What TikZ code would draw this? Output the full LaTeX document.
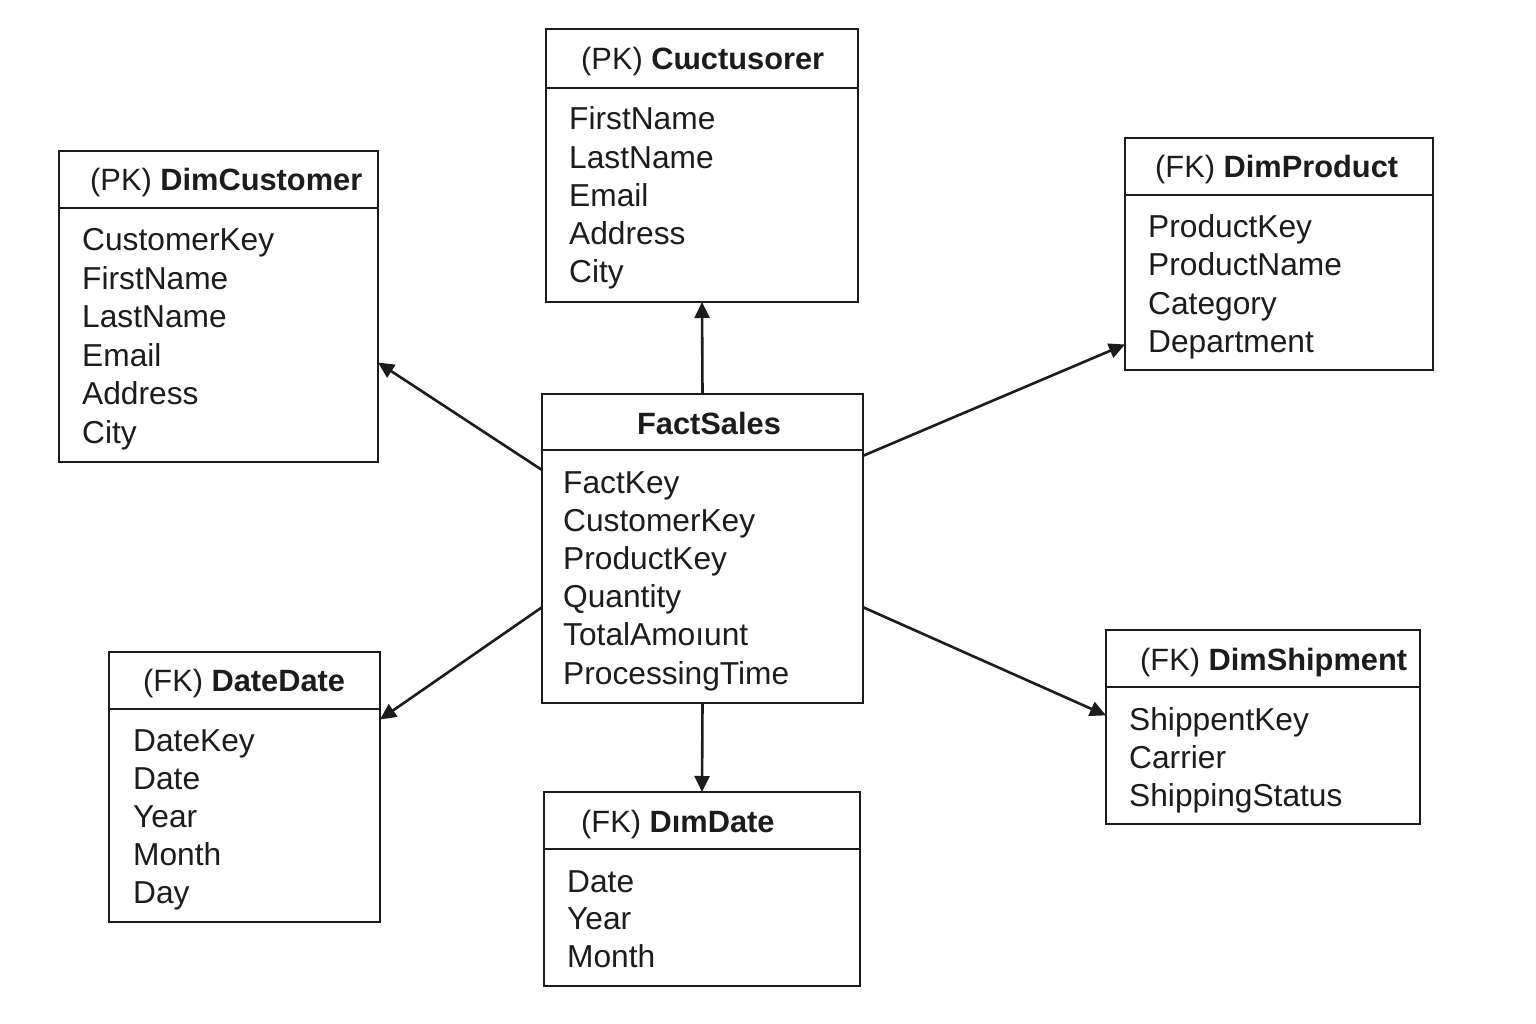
\documentclass[tikz,border=0pt]{standalone}
\usepackage{fontspec}
\setmainfont{Liberation Sans}
\usetikzlibrary{arrows.meta,calc}
\definecolor{ink}{HTML}{1C1C1C}
\begin{document}
\begin{tikzpicture}[x=1pt,y=-1pt,
  tbl/.style={draw=ink, line width=2.8pt, rectangle, inner sep=0pt, outer sep=0pt, anchor=north west},
  hdr/.style={text=ink, font=\fontsize{30.8}{36}\selectfont, anchor=base west, inner sep=0pt},
  fld/.style={text=ink, font=\fontsize{31.7}{38}\selectfont, anchor=base west, inner sep=0pt},
  sep/.style={draw=ink, line width=2.8pt},
  link/.style={draw=ink, line width=2.6pt, -{Triangle[length=16pt,width=15pt]}}]
\useasboundingbox (0,0) rectangle (1536,1024);
\fill[white] (0,0) rectangle (1536,1024);

% DimCustomer
\node[tbl, minimum width=319pt, minimum height=311pt] (cust) at (59,151) {};
\draw[sep] ([yshift=-57pt]cust.north west) -- ([yshift=-57pt]cust.north east);
\node[hdr] (custh) at (90,191) {(PK) \textbf{DimCustomer}};
\foreach \t [count=\i] in {CustomerKey,FirstName,LastName,Email,Address,City}
  \node[fld] (custf\i) at (82,{251+38.4*(\i-1)}) {\t};

% Cwctusorer
\node[tbl, minimum width=312pt, minimum height=273pt] (top) at (546,29) {};
\draw[sep] ([yshift=-59pt]top.north west) -- ([yshift=-59pt]top.north east);
\node[hdr] (toph) at (581,70) {(PK) \textbf{Cɯctusorer}};
\foreach \t [count=\i] in {FirstName,LastName,Email,Address,City}
  \node[fld] (topf\i) at (569,{130+38.25*(\i-1)}) {\t};

% DimProduct
\node[tbl, minimum width=308pt, minimum height=232pt] (prod) at (1125,138) {};
\draw[sep] ([yshift=-57pt]prod.north west) -- ([yshift=-57pt]prod.north east);
\node[hdr] (prodh) at (1155,178) {(FK) \textbf{DimProduct}};
\foreach \t [count=\i] in {ProductKey,ProductName,Category,Department}
  \node[fld] (prodf\i) at (1148,{238+38*(\i-1)}) {\t};

% FactSales
\node[tbl, minimum width=321pt, minimum height=309pt] (fact) at (542,394) {};
\draw[sep] ([yshift=-56pt]fact.north west) -- ([yshift=-56pt]fact.north east);
\node[hdr, anchor=base] (facth) at (709,434) {\textbf{FactSales}};
\foreach \t [count=\i] in {FactKey,CustomerKey,ProductKey,Quantity,TotalAmoıunt,ProcessingTime}
  \node[fld] (factf\i) at (563,{493+38.2*(\i-1)}) {\t};

% DateDate
\node[tbl, minimum width=271pt, minimum height=270pt] (dated) at (109,652) {};
\draw[sep] ([yshift=-57pt]dated.north west) -- ([yshift=-57pt]dated.north east);
\node[hdr] (datedh) at (143,691) {(FK) \textbf{DateDate}};
\foreach \t [count=\i] in {DateKey,Date,Year,Month,Day}
  \node[fld] (datedf\i) at (133,{751+38*(\i-1)}) {\t};

% DimDate
\node[tbl, minimum width=316pt, minimum height=194pt] (dimd) at (544,792) {};
\draw[sep] ([yshift=-57pt]dimd.north west) -- ([yshift=-57pt]dimd.north east);
\node[hdr] (dimdh) at (581,832) {(FK) \textbf{DımDate}};
\foreach \t [count=\i] in {Date,Year,Month}
  \node[fld] (dimdf\i) at (567,{892+37.5*(\i-1)}) {\t};

% DimShipment
\node[tbl, minimum width=314pt, minimum height=194pt] (ship) at (1106,630) {};
\draw[sep] ([yshift=-57pt]ship.north west) -- ([yshift=-57pt]ship.north east);
\node[hdr] (shiph) at (1140,670) {(FK) \textbf{DimShipment}};
\foreach \t [count=\i] in {ShippentKey,Carrier,ShippingStatus}
  \node[fld] (shipf\i) at (1129,{730+38*(\i-1)}) {\t};

% connectors
\draw[link] ($(fact.north west)!0.246!(fact.south west)$) -- ($(cust.north east)!0.68!(cust.south east)$);
\draw[link] (fact.north) -- (top.south);
\draw[link] ($(fact.north east)!0.2!(fact.south east)$) -- ($(prod.north west)!0.89!(prod.south west)$);
\draw[link] ($(fact.north west)!0.69!(fact.south west)$) -- ($(dated.north east)!0.25!(dated.south east)$);
\draw[link] (fact.south) -- (dimd.north);
\draw[link] ($(fact.north east)!0.69!(fact.south east)$) -- ($(ship.north west)!0.44!(ship.south west)$);
\end{tikzpicture}
\end{document}
